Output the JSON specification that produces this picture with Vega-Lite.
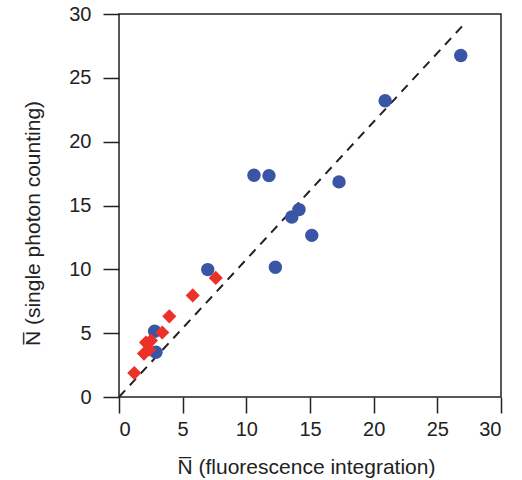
{
  "$schema": "https://vega.github.io/schema/vega-lite/v6.json",
  "width": 382,
  "height": 383,
  "autosize": "none",
  "padding": {"left": 119, "top": 14, "right": 21, "bottom": 83},
  "background": "white",
  "config": {
    "view": {"stroke": "#222222", "strokeWidth": 1.5},
    "font": "Liberation Sans",
    "axis": {
      "domain": false,
      "grid": false,
      "tickColor": "#222222",
      "tickWidth": 1.5,
      "tickSize": 16,
      "labelFont": "Liberation Sans",
      "labelFontSize": 20,
      "labelColor": "#222222",
      "titleFont": "Liberation Sans",
      "titleFontSize": 21,
      "titleFontWeight": "normal",
      "titleColor": "#222222"
    }
  },
  "datasets": {
    "points": [
      {"fluor": 26.84, "spc": 26.75, "method": "A"},
      {"fluor": 20.9, "spc": 23.2, "method": "A"},
      {"fluor": 17.28, "spc": 16.85, "method": "A"},
      {"fluor": 10.6, "spc": 17.37, "method": "A"},
      {"fluor": 11.78, "spc": 17.34, "method": "A"},
      {"fluor": 14.14, "spc": 14.68, "method": "A"},
      {"fluor": 13.57, "spc": 14.1, "method": "A"},
      {"fluor": 15.14, "spc": 12.66, "method": "A"},
      {"fluor": 12.28, "spc": 10.16, "method": "A"},
      {"fluor": 6.97, "spc": 9.98, "method": "A"},
      {"fluor": 2.8, "spc": 5.15, "method": "A"},
      {"fluor": 2.9, "spc": 3.5, "method": "A"},
      {"fluor": 7.6, "spc": 9.33, "method": "B"},
      {"fluor": 5.79, "spc": 7.96, "method": "B"},
      {"fluor": 3.95, "spc": 6.32, "method": "B"},
      {"fluor": 3.4, "spc": 5.05, "method": "B"},
      {"fluor": 2.12, "spc": 4.26, "method": "B"},
      {"fluor": 2.51, "spc": 4.42, "method": "B"},
      {"fluor": 2.36, "spc": 3.71, "method": "B"},
      {"fluor": 1.96, "spc": 3.4, "method": "B"},
      {"fluor": 1.2, "spc": 1.88, "method": "B"}
    ],
    "line": [
      {"fluor": 0, "spc": 0},
      {"fluor": 27, "spc": 29.1}
    ]
  },
  "layer": [
    {
      "data": {"name": "line"},
      "mark": {"type": "line", "color": "#222222", "strokeWidth": 2, "strokeDash": [9, 7]},
      "encoding": {
        "x": {"field": "fluor", "type": "quantitative", "scale": {"domain": [0, 30], "nice": false},
          "axis": {"values": [0, 5, 10, 15, 20, 25, 30], "title": "N\u0305 (fluorescence integration)", "labelPadding": 6, "titlePadding": 17, "titleX": 187}},
        "y": {"field": "spc", "type": "quantitative", "scale": {"domain": [0, 30], "nice": false},
          "axis": {"values": [0, 5, 10, 15, 20, 25, 30], "title": "N\u0305 (single photon counting)", "labelPadding": 12, "titlePadding": 25, "titleY": 209}}
      }
    },
    {
      "data": {"name": "points"},
      "mark": {"type": "point", "filled": true, "opacity": 1},
      "encoding": {
        "x": {"field": "fluor", "type": "quantitative"},
        "y": {"field": "spc", "type": "quantitative"},
        "shape": {"field": "method", "type": "nominal", "scale": {"domain": ["A", "B"], "range": ["circle", "diamond"]}, "legend": null},
        "size": {"field": "method", "type": "nominal", "scale": {"domain": ["A", "B"], "range": [180, 200]}, "legend": null},
        "color": {"field": "method", "type": "nominal", "scale": {"domain": ["A", "B"], "range": ["#3a55a5", "#ec3228"]}, "legend": null},
        "order": {"field": "method", "type": "nominal"}
      }
    }
  ]
}
